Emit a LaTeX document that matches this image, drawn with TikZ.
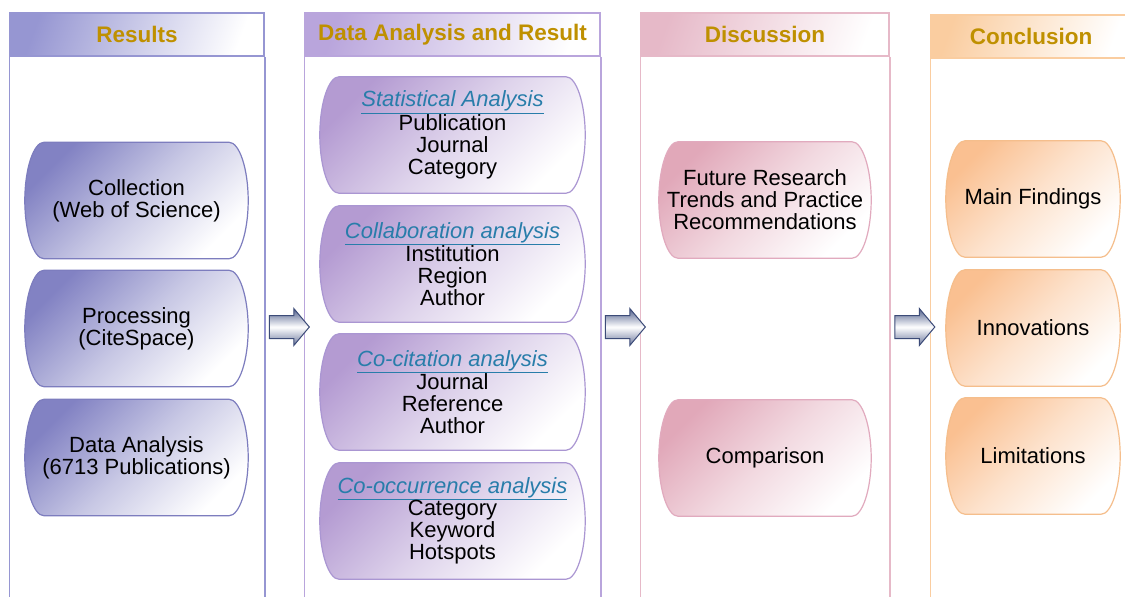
\documentclass[tikz,border=0pt]{standalone}
\usepackage{fontspec}
\setmainfont{Liberation Sans}
\usetikzlibrary{shapes.arrows,backgrounds}

\definecolor{gold}{RGB}{191,144,0}
\definecolor{linkblue}{RGB}{40,125,170}
\definecolor{arrowline}{RGB}{60,75,120}
\definecolor{arrowdark}{RGB}{80,95,140}
% column palettes: frame, box border, fill
\definecolor{fA}{RGB}{150,150,210}\definecolor{bA}{RGB}{125,125,190}\definecolor{cA}{RGB}{130,130,195}
\definecolor{fB}{RGB}{185,165,220}\definecolor{bB}{RGB}{170,150,210}\definecolor{cB}{RGB}{180,155,210}
\definecolor{fC}{RGB}{230,185,200}\definecolor{bC}{RGB}{225,170,190}\definecolor{cC}{RGB}{225,168,185}
\definecolor{fD}{RGB}{250,205,160}\definecolor{bD}{RGB}{245,190,140}\definecolor{cD}{RGB}{250,192,145}

\newcommand{\boxfont}{\fontsize{22}{22}\selectfont}
\newcommand{\lnk}[1]{{\color{linkblue}\itshape\underline{#1}}}

% barrel outline behind a named node: straight top and bottom, bulging sides
\newcommand{\barrelbg}[2]{%
  \begin{scope}[on background layer]
    \path[#2]
      ([xshift=19pt]#1.north west) -- ([xshift=-19pt]#1.north east)
      .. controls ([xshift=-9pt]#1.north east) and ([yshift=-26pt]#1.north east) .. (#1.east)
      .. controls ([yshift=26pt]#1.south east) and ([xshift=-9pt]#1.south east) .. ([xshift=-19pt]#1.south east)
      -- ([xshift=19pt]#1.south west)
      .. controls ([xshift=9pt]#1.south west) and ([yshift=26pt]#1.south west) .. (#1.west)
      .. controls ([yshift=-26pt]#1.north west) and ([xshift=9pt]#1.north west) .. ([xshift=19pt]#1.north west)
      -- cycle;
  \end{scope}}

\tikzset{
  header/.style={shade, left color=#1, right color=white, shading angle=70,
    draw=#1, line width=1.5pt, inner sep=0pt, text=gold,
    font=\fontsize{22.5}{22}\selectfont\bfseries},
  colframe/.style={draw=#1, line width=1.5pt},
  boxtext/.style={rectangle, inner sep=0pt, align=center, font=\boxfont, text=black,
    minimum height=116pt},
  barrelskin/.style={draw=#1, line width=1.2pt},
  blockarrow/.style={single arrow, draw=arrowline, line width=1pt,
    top color=arrowdark, bottom color=arrowdark!85, middle color=white,
    inner xsep=0pt, inner ysep=11pt, minimum height=40pt,
    single arrow head extend=7pt, single arrow tip angle=100}
}

\begin{document}
\begin{tikzpicture}[x=1pt,y=-1pt]
\useasboundingbox (0,0) rectangle (1125,597);
\begin{scope}[on background layer]
  \fill[white] (0,0) rectangle (1125,597);
\end{scope}

% column headers
\node[header=fA, minimum width=254pt, minimum height=43pt] (h1) at (137,34.5) {Results};
\node[header=fB, minimum width=295pt, minimum height=43pt] (h2) at (452.5,34.5) {Data Analysis and Result};
\node[header=fC, minimum width=248pt, minimum height=43pt] (h3) at (765,34.5) {Discussion};
\node[header=fD, minimum width=200pt, minimum height=43pt] (h4) at (1031,36.5) {Conclusion};

% column side frames running down to the bottom edge
\foreach \h/\c in {h1/fA,h2/fB,h3/fC,h4/fD}{
  \draw[colframe=\c] (\h.south west) -- (\h.south west |- 0,598);
  \draw[colframe=\c] (\h.south east) -- (\h.south east |- 0,598);
}

% Results column
\tikzset{sA/.style={barrelskin=bA, top color=cA, bottom color=white, middle color=cA!45, shading angle=45}}
\foreach \n/\y/\t in {r1/200.5/{Collection\\(Web of Science)},
                      r2/328.5/{Processing\\(CiteSpace)},
                      r3/457.5/{Data Analysis\\(6713 Publications)}}{
  \node[boxtext, minimum width=223pt] (\n) at (136.5,\y) {\t};
  \barrelbg{\n}{sA}
}

% Data analysis column
\tikzset{sB/.style={barrelskin=bB, top color=cB, bottom color=white, middle color=cB!45, shading angle=45}}
\foreach \n/\y/\t in {d1/135/{\lnk{Statistical Analysis}\\Publication\\Journal\\Category},
                      d2/264/{\lnk{Collaboration analysis}\\Institution\\Region\\Author},
                      d3/392/{\lnk{Co-citation analysis}\\Journal\\Reference\\Author},
                      d4/521/{\lnk{Co-occurrence analysis}\\Category\\Keyword\\Hotspots}}{
  \node[boxtext, minimum width=265pt] (\n) at (452.5,\y) {\t};
  \barrelbg{\n}{sB}
}

% Discussion column
\tikzset{sC/.style={barrelskin=bC, top color=cC, bottom color=white, middle color=cC!45, shading angle=45}}
\foreach \n/\y/\t in {s1/200/{Future Research\\Trends and Practice\\Recommendations},
                      s2/458/{Comparison}}{
  \node[boxtext, minimum width=212pt] (\n) at (765,\y) {\t};
  \barrelbg{\n}{sC}
}

% Conclusion column
\tikzset{sD/.style={barrelskin=bD, top color=cD, bottom color=white, middle color=cD!45, shading angle=45}}
\foreach \n/\y/\t in {c1/199/{Main Findings},
                      c2/328/{Innovations},
                      c3/456/{Limitations}}{
  \node[boxtext, minimum width=174pt] (\n) at (1033,\y) {\t};
  \barrelbg{\n}{sD}
}

% block arrows between the columns
\node[blockarrow] (a1) at (284.5,327) {};
\node[blockarrow] (a2) at (620.5,327) {};
\node[blockarrow] (a3) at (910,327) {};
\end{tikzpicture}
\end{document}
